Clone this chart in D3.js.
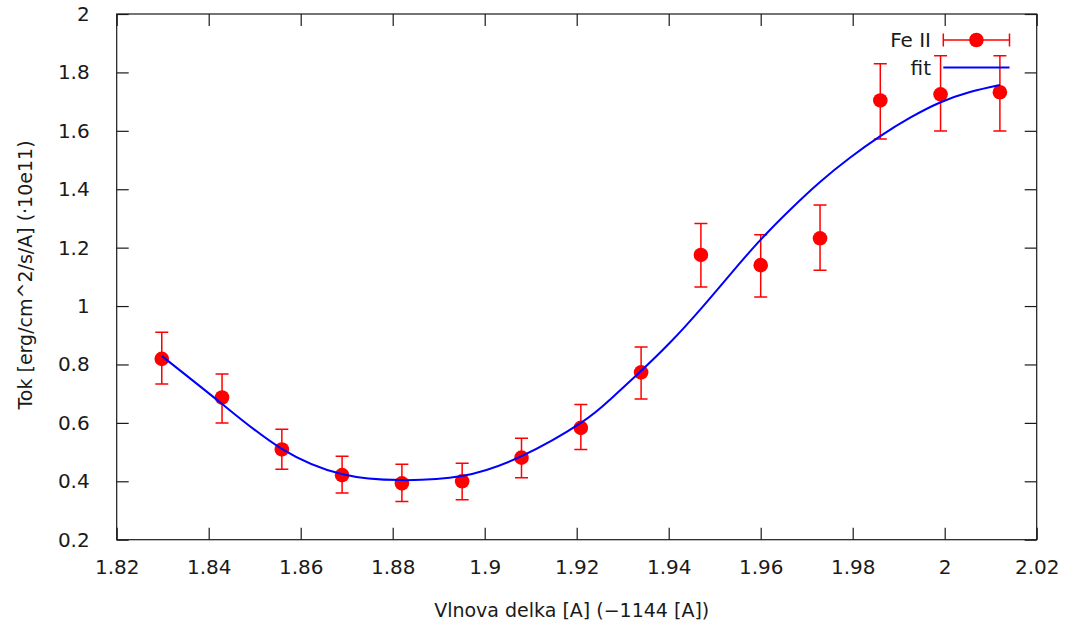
<!DOCTYPE html>
<html>
<head>
<meta charset="utf-8">
<script src="https://cdn.jsdelivr.net/npm/d3@7"></script>
<style>
  html, body { margin: 0; padding: 0; background: #fff; }
  svg { display: block; }
  text { font-family: "DejaVu Sans", sans-serif; fill: #1a1a1a; }
</style>
</head>
<body>
<svg id="chart" width="1072" height="633"></svg>
<script>
// Fe II measurements: wavelength offset, flux and error-bar limits
const wavelength = [1.8298, 1.8429, 1.8559, 1.8690, 1.8820, 1.8951, 1.9080, 1.9209,
                    1.9340, 1.9470, 1.9600, 1.9729, 1.9860, 1.9991, 2.0120];
const flux       = [0.819, 0.687, 0.509, 0.421, 0.393, 0.400, 0.481, 0.583,
                    0.773, 1.175, 1.140, 1.232, 1.704, 1.725, 1.732];
const fluxLow    = [0.733, 0.600, 0.441, 0.360, 0.331, 0.337, 0.412, 0.509,
                    0.682, 1.065, 1.031, 1.123, 1.572, 1.599, 1.599];
const fluxHigh   = [0.910, 0.767, 0.578, 0.486, 0.458, 0.462, 0.547, 0.663,
                    0.860, 1.283, 1.244, 1.346, 1.830, 1.857, 1.857];

// fitted curve, sampled along the wavelength axis
const fitX = [1.8298, 1.8432, 1.8557, 1.8689, 1.8818, 1.8950, 1.9080, 1.9209, 1.9274,
              1.9338, 1.9403, 1.9468, 1.9533, 1.9598, 1.9664, 1.9729, 1.9794,
              1.9860, 1.9925, 1.9990, 2.0055, 2.0120];
const fitY = [0.829, 0.661, 0.513, 0.425, 0.404, 0.418, 0.486, 0.600, 0.682,
              0.775, 0.875, 0.987, 1.107, 1.224, 1.330, 1.425, 1.508,
              1.582, 1.645, 1.697, 1.733, 1.757];

// axis ticks
const xTicks = [1.82, 1.84, 1.86, 1.88, 1.9, 1.92, 1.94, 1.96, 1.98, 2, 2.02];
const yTicks = [0.2, 0.4, 0.6, 0.8, 1, 1.2, 1.4, 1.6, 1.8, 2];
const xTickLabels = ["1.82", "1.84", "1.86", "1.88", "1.9", "1.92", "1.94", "1.96", "1.98", "2", "2.02"];
const yTickLabels = ["0.2", "0.4", "0.6", "0.8", "1", "1.2", "1.4", "1.6", "1.8", "2"];

const seriesName = "Fe II";
const fitName = "fit";
const xTitle = "Vlnova delka [A] (\u22121144 [A])";
const yTitle = "Tok [erg/cm^2/s/A] (\u00b710e11)";

const svg = d3.select("#chart");
const plotLeft = 116.7, plotRight = 1036.7, plotTop = 14, plotBottom = 539.7;

const x = d3.scaleLinear().domain([1.82, 2.02]).range([plotLeft, plotRight]);
const y = d3.scaleLinear().domain([0.2, 2]).range([plotBottom, plotTop]);

const axisColor = "#1a1a1a";
const tickLen = 12;
const fontSize = 20;

// frame
svg.append("rect")
  .attr("x", plotLeft).attr("y", plotTop)
  .attr("width", plotRight - plotLeft).attr("height", plotBottom - plotTop)
  .attr("fill", "none").attr("stroke", axisColor).attr("stroke-width", 1.2);

// axes (ticks mirrored on all four sides)
function styleAxis(g) {
  g.select(".domain").remove();
  g.selectAll(".tick line").attr("stroke", axisColor).attr("stroke-width", 1.2);
  g.selectAll(".tick text").attr("font-size", fontSize).attr("fill", "#1a1a1a")
    .style("font-family", "'DejaVu Sans', sans-serif");
}
svg.append("g").attr("transform", `translate(0,${plotBottom})`)
  .call(d3.axisBottom(x).tickValues(xTicks).tickSizeInner(-tickLen).tickSizeOuter(0).tickPadding(20)
    .tickFormat((d, i) => xTickLabels[i]))
  .call(styleAxis);
svg.append("g").attr("transform", `translate(0,${plotTop})`)
  .call(d3.axisTop(x).tickValues(xTicks).tickSizeInner(-tickLen).tickSizeOuter(0).tickFormat(""))
  .call(styleAxis);
svg.append("g").attr("transform", `translate(${plotLeft},0)`)
  .call(d3.axisLeft(y).tickValues(yTicks).tickSizeInner(-tickLen).tickSizeOuter(0).tickPadding(27)
    .tickFormat((d, i) => yTickLabels[i]))
  .call(styleAxis);
svg.append("g").attr("transform", `translate(${plotRight},0)`)
  .call(d3.axisRight(y).tickValues(yTicks).tickSizeInner(-tickLen).tickSizeOuter(0).tickFormat(""))
  .call(styleAxis);

// axis titles
svg.append("text")
  .attr("x", (plotLeft + plotRight) / 2 - 5).attr("y", 610)
  .attr("text-anchor", "middle").attr("dominant-baseline", "central")
  .attr("font-size", 19).text(xTitle);
svg.append("text")
  .attr("transform", `translate(25,${275}) rotate(-90)`)
  .attr("text-anchor", "middle").attr("dominant-baseline", "central")
  .attr("font-size", 19).text(yTitle);

// plot contents, clipped to the frame
svg.append("clipPath").attr("id", "plot-clip")
  .append("rect").attr("x", plotLeft).attr("y", plotTop)
  .attr("width", plotRight - plotLeft).attr("height", plotBottom - plotTop);
const plot = svg.append("g").attr("clip-path", "url(#plot-clip)");

const red = "#ff0000";
const blue = "#0000ff";
const capHalf = 6.5;
const radius = 7.3;

const pts = wavelength.map((w, i) => ({ w, f: flux[i], lo: fluxLow[i], hi: fluxHigh[i] }));

// error bars
const eb = plot.append("g").attr("stroke", red).attr("stroke-width", 1.5).attr("fill", "none");
eb.selectAll("path").data(pts).join("path")
  .attr("d", d => {
    const cx = x(d.w), y0 = y(d.lo), y1 = y(d.hi);
    return `M${cx},${y0}V${y1}M${cx - capHalf},${y0}H${cx + capHalf}M${cx - capHalf},${y1}H${cx + capHalf}`;
  });

// points
plot.append("g").selectAll("circle").data(pts).join("circle")
  .attr("cx", d => x(d.w)).attr("cy", d => y(d.f)).attr("r", radius).attr("fill", red);

// fitted curve
const line = d3.line().x(d => x(d[0])).y(d => y(d[1])).curve(d3.curveNatural);
plot.append("path")
  .datum(fitX.map((v, i) => [v, fitY[i]]))
  .attr("d", line)
  .attr("fill", "none").attr("stroke", blue).attr("stroke-width", 2);

// legend
const lgX0 = 943.3, lgX1 = 1009.5, lgTextX = 931;
const lgY1 = 40, lgY2 = 67.5;
const legend = svg.append("g");
legend.append("text").attr("x", lgTextX).attr("y", lgY1)
  .attr("text-anchor", "end").attr("dominant-baseline", "central")
  .attr("font-size", fontSize).text(seriesName);
legend.append("path")
  .attr("d", `M${lgX0},${lgY1}H${lgX1}M${lgX0},${lgY1 - capHalf}V${lgY1 + capHalf}M${lgX1},${lgY1 - capHalf}V${lgY1 + capHalf}`)
  .attr("stroke", red).attr("stroke-width", 1.5).attr("fill", "none");
legend.append("circle").attr("cx", (lgX0 + lgX1) / 2).attr("cy", lgY1).attr("r", radius).attr("fill", red);
legend.append("text").attr("x", lgTextX).attr("y", lgY2)
  .attr("text-anchor", "end").attr("dominant-baseline", "central")
  .attr("font-size", fontSize).text(fitName);
legend.append("line")
  .attr("x1", lgX0).attr("x2", lgX1).attr("y1", lgY2).attr("y2", lgY2)
  .attr("stroke", blue).attr("stroke-width", 2);
</script>
</body>
</html>
